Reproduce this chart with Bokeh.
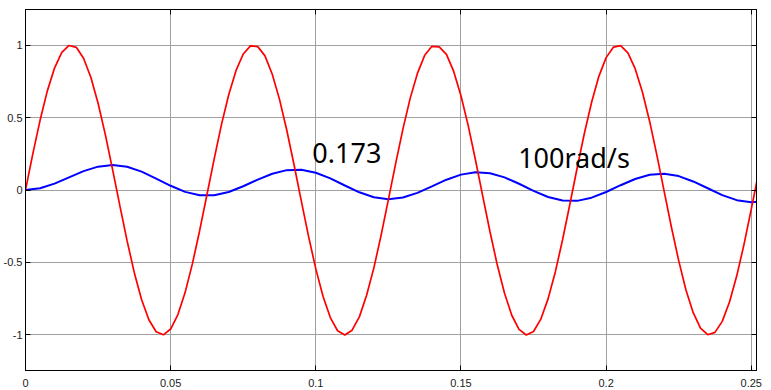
from bokeh.plotting import figure
from bokeh.models import Range1d, LinearAxis, FixedTicker, Label, CustomLabelingPolicy
from bokeh.embed import file_html
from bokeh.resources import INLINE

# ---- data ----
t_step_red = 0.0025
red_values = [0, 0.247, 0.479, 0.682, 0.841, 0.949, 0.997, 0.984, 0.909, 0.778,
              0.598, 0.382, 0.141, -0.108, -0.351, -0.572, -0.757, -0.895, -0.978, -0.999,
              -0.959, -0.859, -0.706, -0.508, -0.279, -0.033, 0.215, 0.451, 0.657, 0.823,
              0.938, 0.994, 0.989, 0.925, 0.798, 0.625, 0.412, 0.174, -0.075, -0.320,
              -0.544, -0.735, -0.880, -0.971, -1.000, -0.967, -0.875, -0.726, -0.537, -0.311,
              -0.066, 0.182, 0.420, 0.632, 0.804, 0.929, 0.991, 0.987, 0.935, 0.818,
              0.650, 0.444, 0.207, -0.042, -0.288, -0.516, -0.712, -0.864, -0.961, -1.000,
              -0.976, -0.891, -0.751, -0.565, -0.343, -0.100, 0.150, 0.390, 0.605, 0.784,
              0.913, 0.985, 0.996, 0.946, 0.837, 0.676, 0.473, 0.239, -0.009, -0.257,
              -0.487, -0.690, -0.846, -0.952, -0.998, -0.982, -0.906, -0.773, -0.592, -0.375,
              -0.132, 0.117, 0.359]

t_step_blue = 0.005
blue_values = [0.000, 0.012, 0.044, 0.087, 0.130, 0.161, 0.172, 0.160, 0.127, 0.079,
               0.029, -0.013, -0.036, -0.036, -0.014, 0.026, 0.072, 0.112, 0.137, 0.140,
               0.119, 0.080, 0.031, -0.016, -0.050, -0.063, -0.052, -0.020, 0.025, 0.071,
               0.106, 0.123, 0.116, 0.087, 0.043, -0.006, -0.048, -0.073, -0.075, -0.053,
               -0.014, 0.033, 0.076, 0.105, 0.112, 0.096, 0.059, 0.012, -0.035, -0.070,
               -0.085, -0.076]

x_ticks = [0, 0.05, 0.1, 0.15, 0.2, 0.25]
x_tick_labels = ["0", "0.05", "0.1", "0.15", "0.2", "0.25"]
y_ticks = [-1, -0.5, 0, 0.5, 1]
y_tick_labels = ["-1", "-0.5", "0", "0.5", "1"]

annotations = ["0.173", "100rad/s"]

t_red = [i * t_step_red for i in range(len(red_values))]
t_blue = [i * t_step_blue for i in range(len(blue_values))]

p = figure(width=771, height=390, output_backend="svg", toolbar_location=None,
           x_range=Range1d(0, 0.2518), y_range=Range1d(-1.245, 1.245),
           min_border_left=24, min_border_right=15, min_border_top=9, min_border_bottom=20,
           background_fill_color="white", border_fill_color="white")

p.outline_line_color = "black"
p.outline_line_width = 1

grid_color = "#a0a0a0"
p.xgrid.ticker = FixedTicker(ticks=x_ticks)
p.ygrid.ticker = FixedTicker(ticks=y_ticks)
for g in (p.xgrid, p.ygrid):
    g.grid_line_color = grid_color
    g.grid_line_width = 1

label_font = "Liberation Sans"

xa = p.xaxis[0]
xa.ticker = FixedTicker(ticks=x_ticks)
xa.major_label_overrides = dict(zip(x_ticks, x_tick_labels))
ya = p.yaxis[0]
ya.ticker = FixedTicker(ticks=y_ticks)
ya.major_label_overrides = dict(zip(y_ticks, y_tick_labels))

for ax in (xa, ya):
    ax.axis_line_color = "black"
    ax.major_tick_line_color = "black"
    ax.major_tick_in = 5
    ax.major_tick_out = 0
    ax.minor_tick_line_color = None
    ax.major_label_text_font = label_font
    ax.major_label_text_font_size = "11px"
    ax.major_label_text_color = "#222222"
xa.major_label_standoff = 8
ya.major_label_standoff = 3

hide_labels = CustomLabelingPolicy(code="""
try { for (const i of [...indices.ones()]) { indices.unset(i) } } catch (e) {}
return indices
""")

top = LinearAxis(ticker=FixedTicker(ticks=x_ticks), major_tick_in=5, major_tick_out=0,
                 minor_tick_line_color=None, major_label_policy=hide_labels,
                 major_label_text_font_size="0px",
                 major_label_standoff=0, axis_line_color="black")
right = LinearAxis(ticker=FixedTicker(ticks=y_ticks), major_tick_in=5, major_tick_out=0,
                   minor_tick_line_color=None, major_label_policy=hide_labels,
                   major_label_text_font_size="0px",
                   major_label_standoff=0, axis_line_color="black")
p.add_layout(top, "above")
p.add_layout(right, "right")

p.line(t_blue, blue_values, line_color="#0000ff", line_width=2)
p.line(t_red, red_values, line_color="#ff0000", line_width=1.7)

p.add_layout(Label(x=0.0988, y=0.252, text=annotations[0], text_font="Noto Sans",
                   text_font_size="27px", text_color="black", text_baseline="alphabetic",
                   text_align="left"))
p.add_layout(Label(x=0.1697, y=0.221, text=annotations[1], text_font="Noto Sans",
                   text_font_size="27px", text_color="black", text_baseline="alphabetic",
                   text_align="left"))

open("out.html", "w").write(file_html(p, INLINE))
